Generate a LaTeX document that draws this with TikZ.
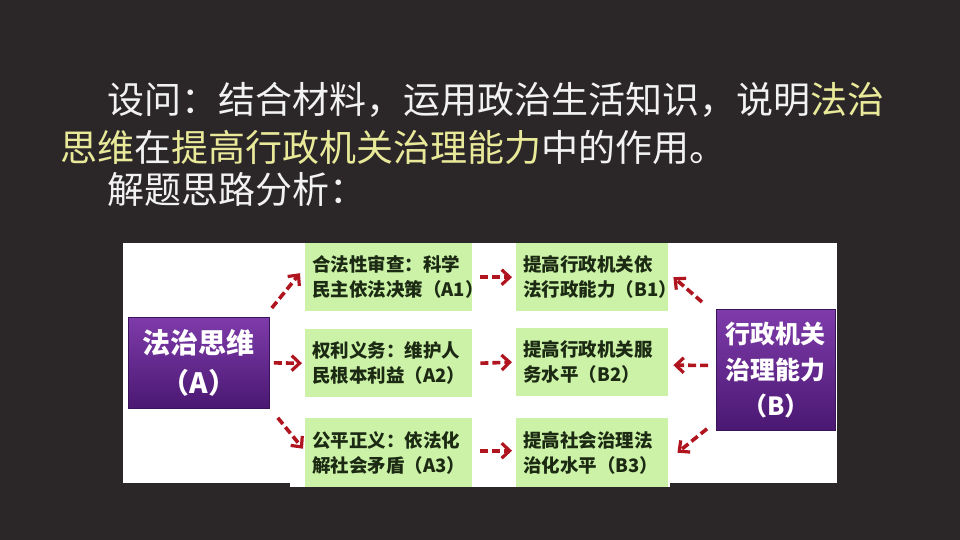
\documentclass[tikz,border=0pt]{standalone}
\usepackage{fontspec}
\setmainfont{Noto Sans CJK SC}
\usetikzlibrary{arrows.meta}
\definecolor{bg}{HTML}{2B2628}
\definecolor{ttl}{HTML}{F2F2F2}
\definecolor{hl}{HTML}{E9E99A}
\definecolor{gfill}{HTML}{CBF2A6}
\definecolor{gtext}{HTML}{1C2A14}
\definecolor{ptop}{HTML}{7E3BAA}
\definecolor{pbot}{HTML}{4A1872}
\definecolor{arrred}{HTML}{B0141E}
\begin{document}
\begin{tikzpicture}[x=1pt,y=-1pt,
  ttlfont/.style={font=\fontsize{37}{44}\selectfont, text=ttl, inner sep=0, anchor=base west},
  gbox/.style={fill=gfill, draw=none, inner xsep=7pt, inner ysep=0pt, anchor=north west,
    align=left, text=gtext, font=\fontsize{18.5}{25}\selectfont\bfseries},
  pboxA/.style={top color=ptop, bottom color=pbot, draw=pbot!80!black, line width=0.8pt,
    text=white, align=center, inner sep=0pt, anchor=north west,
    font=\fontsize{28}{40}\selectfont\bfseries},
  pboxB/.style={top color=ptop, bottom color=pbot, draw=pbot!80!black, line width=0.8pt,
    text=white, align=center, inner sep=0pt, anchor=north west,
    font=\fontsize{25}{36}\selectfont\bfseries},
  arr/.style={draw=arrred, line width=3.6pt, dash pattern=on 8pt off 4pt,
    -{Straight Barb[length=8pt,width=15pt,line width=3.2pt]}}
]
\useasboundingbox (0,0) rectangle (960,540);
\fill[bg] (0,0) rectangle (960,540);
% title
\node[ttlfont] (t1) at (107,114) {设问：结合材料，运用政治生活知识，说明\textcolor{hl}{法治}};
\node[ttlfont] (t2) at (60,162) {\textcolor{hl}{思维}在\textcolor{hl}{提高行政机关治理能力}中的作用。};
\node[ttlfont] (t3) at (107,204) {解题思路分析：};
% white panel
\fill[white] (123,243) rectangle (837,483);
\fill[white] (290,480) rectangle (670,487);
% purple boxes
\node[pboxA, minimum width=141pt, minimum height=91pt] (pa) at (128,317) {法治思维\\（A）};
\node[pboxB, minimum width=119pt, minimum height=121pt] (pb) at (716,309) {行政机关\\治理能力\\（B）};
% green boxes
\node[gbox, minimum width=167pt, minimum height=68pt, text width=153pt] (a1) at (305,243) {合法性审查：科学\\民主依法决策（A1）};
\node[gbox, minimum width=167pt, minimum height=68pt, text width=153pt] (a2) at (305,329) {权利义务：维护人\\民根本利益（A2）};
\node[gbox, minimum width=167pt, minimum height=69pt, text width=153pt] (a3) at (305,418) {公平正义：依法化\\解社会矛盾（A3）};
\node[gbox, minimum width=152pt, minimum height=68pt, text width=138pt] (b1) at (516,243) {提高行政机关依\\法行政能力（B1）};
\node[gbox, minimum width=152pt, minimum height=68pt, text width=138pt] (b2) at (516,328) {提高行政机关服\\务水平（B2）};
\node[gbox, minimum width=152pt, minimum height=69pt, text width=138pt] (b3) at (516,418) {提高社会治理法\\治化水平（B3）};
% arrows
\draw[arr] ([shift={(2,-9)}]pa.north east) -- ([shift={(-5,-4)}]a1.west);
\draw[arr] ([xshift=4]pa.east) -- ([xshift=-3]a2.west);
\draw[arr] ([shift={(8,9)}]pa.south east) -- ([shift={(-2,-4)}]a3.west);
\draw[arr] ([xshift=8]a1.east) -- ([xshift=-4]b1.west);
\draw[arr] ([xshift=8]a2.east) -- ([xshift=-4]b2.west);
\draw[arr] ([shift={(8,-2)}]a3.east) -- ([shift={(-4,-2)}]b3.west);
\draw[arr] ([shift={(-14,-7)}]pb.north west) -- ([xshift=5]b1.east);
\draw[arr] ([shift={(-8,-4.5)}]pb.west) -- ([shift={(5,3)}]b2.east);
\draw[arr] ([shift={(-9,-2)}]pb.south west) -- ([shift={(9,0)}]b3.east);
\end{tikzpicture}
\end{document}
